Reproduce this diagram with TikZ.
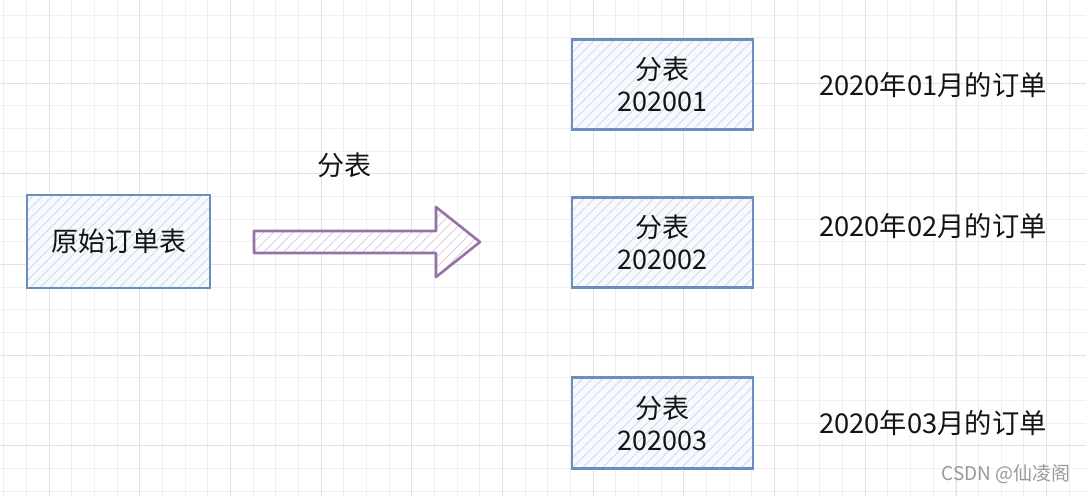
\documentclass[tikz,border=0pt]{standalone}
\usepackage{fontspec}
\setmainfont{Noto Sans CJK SC}
\usetikzlibrary{patterns.meta}
\definecolor{gridlight}{HTML}{F0F0F0}
\definecolor{griddark}{HTML}{E2E2E2}
\definecolor{boxline}{HTML}{6C8EBF}
\definecolor{boxfill}{HTML}{F6F9FD}
\definecolor{boxhatch}{HTML}{C9D6E6}
\definecolor{arrowline}{HTML}{9673A6}
\definecolor{arrowhatch}{HTML}{D6C6DF}
\definecolor{inktext}{HTML}{141414}
\definecolor{marktext}{HTML}{9A9A9A}
\begin{document}
\begin{tikzpicture}[x=1pt, y=-1pt,
  gridminor/.style={draw=gridlight, line width=0.8pt},
  gridmajor/.style={draw=griddark, line width=1pt},
  tablebox/.style={draw=boxline, line width=2.8pt, preaction={fill=boxfill},
    pattern={Lines[angle=45,distance=7pt,line width=0.7pt]}, pattern color=boxhatch,
    minimum width=181pt, minimum height=90pt, inner sep=0pt, align=center,
    text=inktext, font=\fontsize{27}{31.5}\selectfont},
  bigarrow/.style={draw=arrowline, line width=2.6pt, line join=round, preaction={fill=white},
    pattern={Lines[angle=45,distance=7pt,line width=0.7pt]}, pattern color=arrowhatch},
  monthtext/.style={inner sep=0pt, anchor=west, text=inktext, font=\fontsize{27.3}{33}\selectfont},
  plaintext/.style={inner sep=0pt, text=inktext, font=\fontsize{27}{32}\selectfont}]
\useasboundingbox (0,0) rectangle (1086,496);
\fill[white] (0,0) rectangle (1086,496);
% grid
\foreach \k in {0,...,47} \draw[gridminor] ({3.67+22.67*\k},0) -- ++(0,496);
\foreach \k in {0,...,21} \draw[gridminor] (0,{15+22.67*\k}) -- ++(1086,0);
\foreach \k in {0,...,11} \draw[gridmajor] ({49+90.7*\k},0) -- ++(0,496);
\foreach \k in {0,...,4} \draw[gridmajor] (0,{83+90.7*\k}) -- ++(1086,0);
% source table
\node[tablebox, minimum width=183pt, minimum height=93pt] (src) at (118.5,241.5) {原始订单表};
% split arrow
\coordinate (tail) at (254,242);
\coordinate (tip) at (480,242);
\draw[bigarrow] (tail) ++(0,-11) -- ++(182,0) -- ++(0,-24) -- (tip) -- ++(-44,35) -- ++(0,-24) -- ++(-182,0) -- cycle;
\node[plaintext] (splitlabel) at (344,165) {分表};
% split tables
\node[tablebox] (t1) at (662.5,84.3) {分表\\202001};
\node[monthtext] (m1) at (819,85) {2020年01月的订单};
\node[tablebox] (t2) at (662.5,242.2) {分表\\202002};
\node[monthtext] (m2) at (819,226) {2020年02月的订单};
\node[tablebox, minimum height=91pt] (t3) at (662.5,423.3) {分表\\202003};
\node[monthtext] (m3) at (819,423) {2020年03月的订单};
% watermark
\node[inner sep=0pt, anchor=east, text=marktext, font=\fontsize{19}{22}\selectfont] (mark) at (1071,474) {CSDN @仙凌阁};
\end{tikzpicture}
\end{document}
